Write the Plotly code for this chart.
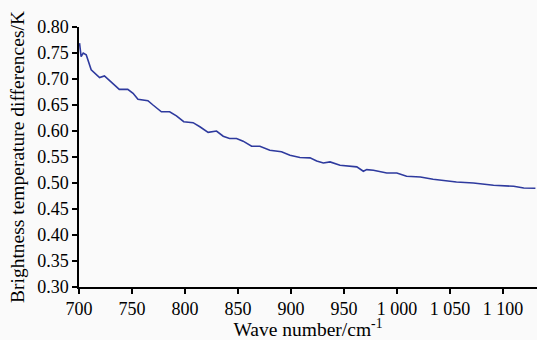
import plotly.graph_objects as go

wave = [700.5, 702, 704, 706.8, 711.5, 719.4, 724, 732, 738, 746, 751, 755.6, 765, 769.8,
        777.7, 785.5, 791.9, 798.8, 807.6, 814, 821.8, 829.7, 836, 842, 848.6, 854.8, 862.8,
        870.6, 880, 891, 899, 908.4, 917.9, 924.2, 930.5, 936.8, 946.2, 962, 966.7, 968.2,
        971.4, 977.7, 990.3, 999.8, 1009, 1022, 1034, 1043.5, 1056, 1072, 1091, 1110,
        1119.5, 1130.5]
btd = [0.769, 0.743, 0.750, 0.7465, 0.7176, 0.7027, 0.706, 0.6906, 0.680, 0.680, 0.6726,
       0.661, 0.6583, 0.650, 0.637, 0.637, 0.629, 0.6178, 0.616, 0.6081, 0.5973, 0.600,
       0.590, 0.5857, 0.5857, 0.5805, 0.5708, 0.5708, 0.5631, 0.560, 0.5535, 0.549, 0.5483,
       0.5425, 0.5386, 0.5405, 0.5342, 0.531, 0.5245, 0.5226, 0.5258, 0.5245, 0.5193,
       0.5193, 0.513, 0.5116, 0.5072, 0.505, 0.502, 0.500, 0.4956, 0.4937, 0.4904, 0.4898]

x_ticks = [700, 750, 800, 850, 900, 950, 1000, 1050, 1100]
x_tick_text = ["700", "750", "800", "850", "900", "950", "1 000", "1 050", "1 100"]
y_ticks = [0.30, 0.35, 0.40, 0.45, 0.50, 0.55, 0.60, 0.65, 0.70, 0.75, 0.80]
y_tick_text = ["%.2f" % v for v in y_ticks]

FAMILY = "Liberation Serif"
SIZE = 18
TSIZE = 19.5

fig = go.Figure()
fig.add_trace(go.Scatter(x=wave, y=btd, mode="lines",
                         line=dict(color="#2e3a9e", width=1.6),
                         showlegend=False, hoverinfo="skip"))

fig.update_layout(
    width=537, height=340,
    margin=dict(l=79, r=0, t=27, b=53),
    paper_bgcolor="#fafafa", plot_bgcolor="#fafafa",
    font=dict(family=FAMILY, size=SIZE, color="black"),
)
fig.update_xaxes(range=[700, 1132], tickvals=x_ticks, ticktext=x_tick_text,
                 showline=True, linecolor="black", linewidth=1.5, ticks="outside",
                 ticklen=5, tickwidth=1.5, tickcolor="black", showgrid=False, zeroline=False,
                 tickfont=dict(family=FAMILY, size=SIZE, color="black"),
                 title_text="Wave number/cm<sup>-1</sup>",
                 title_font=dict(family=FAMILY, size=TSIZE, color="black"),
                 title_standoff=2)
fig.update_yaxes(range=[0.30, 0.80], tickvals=y_ticks, ticktext=y_tick_text,
                 showline=True, linecolor="black", linewidth=1.5, ticks="outside",
                 ticklen=5, tickwidth=1.5, tickcolor="black", showgrid=False, zeroline=False,
                 tickfont=dict(family=FAMILY, size=SIZE, color="black"),
                 title_text="Brightness temperature differences/K",
                 title_font=dict(family=FAMILY, size=TSIZE, color="black"),
                 title_standoff=7)

fig.write_html("out.html", config={"displayModeBar": False},
               post_script="document.body.style.margin='0';document.body.style.overflow='hidden';")
